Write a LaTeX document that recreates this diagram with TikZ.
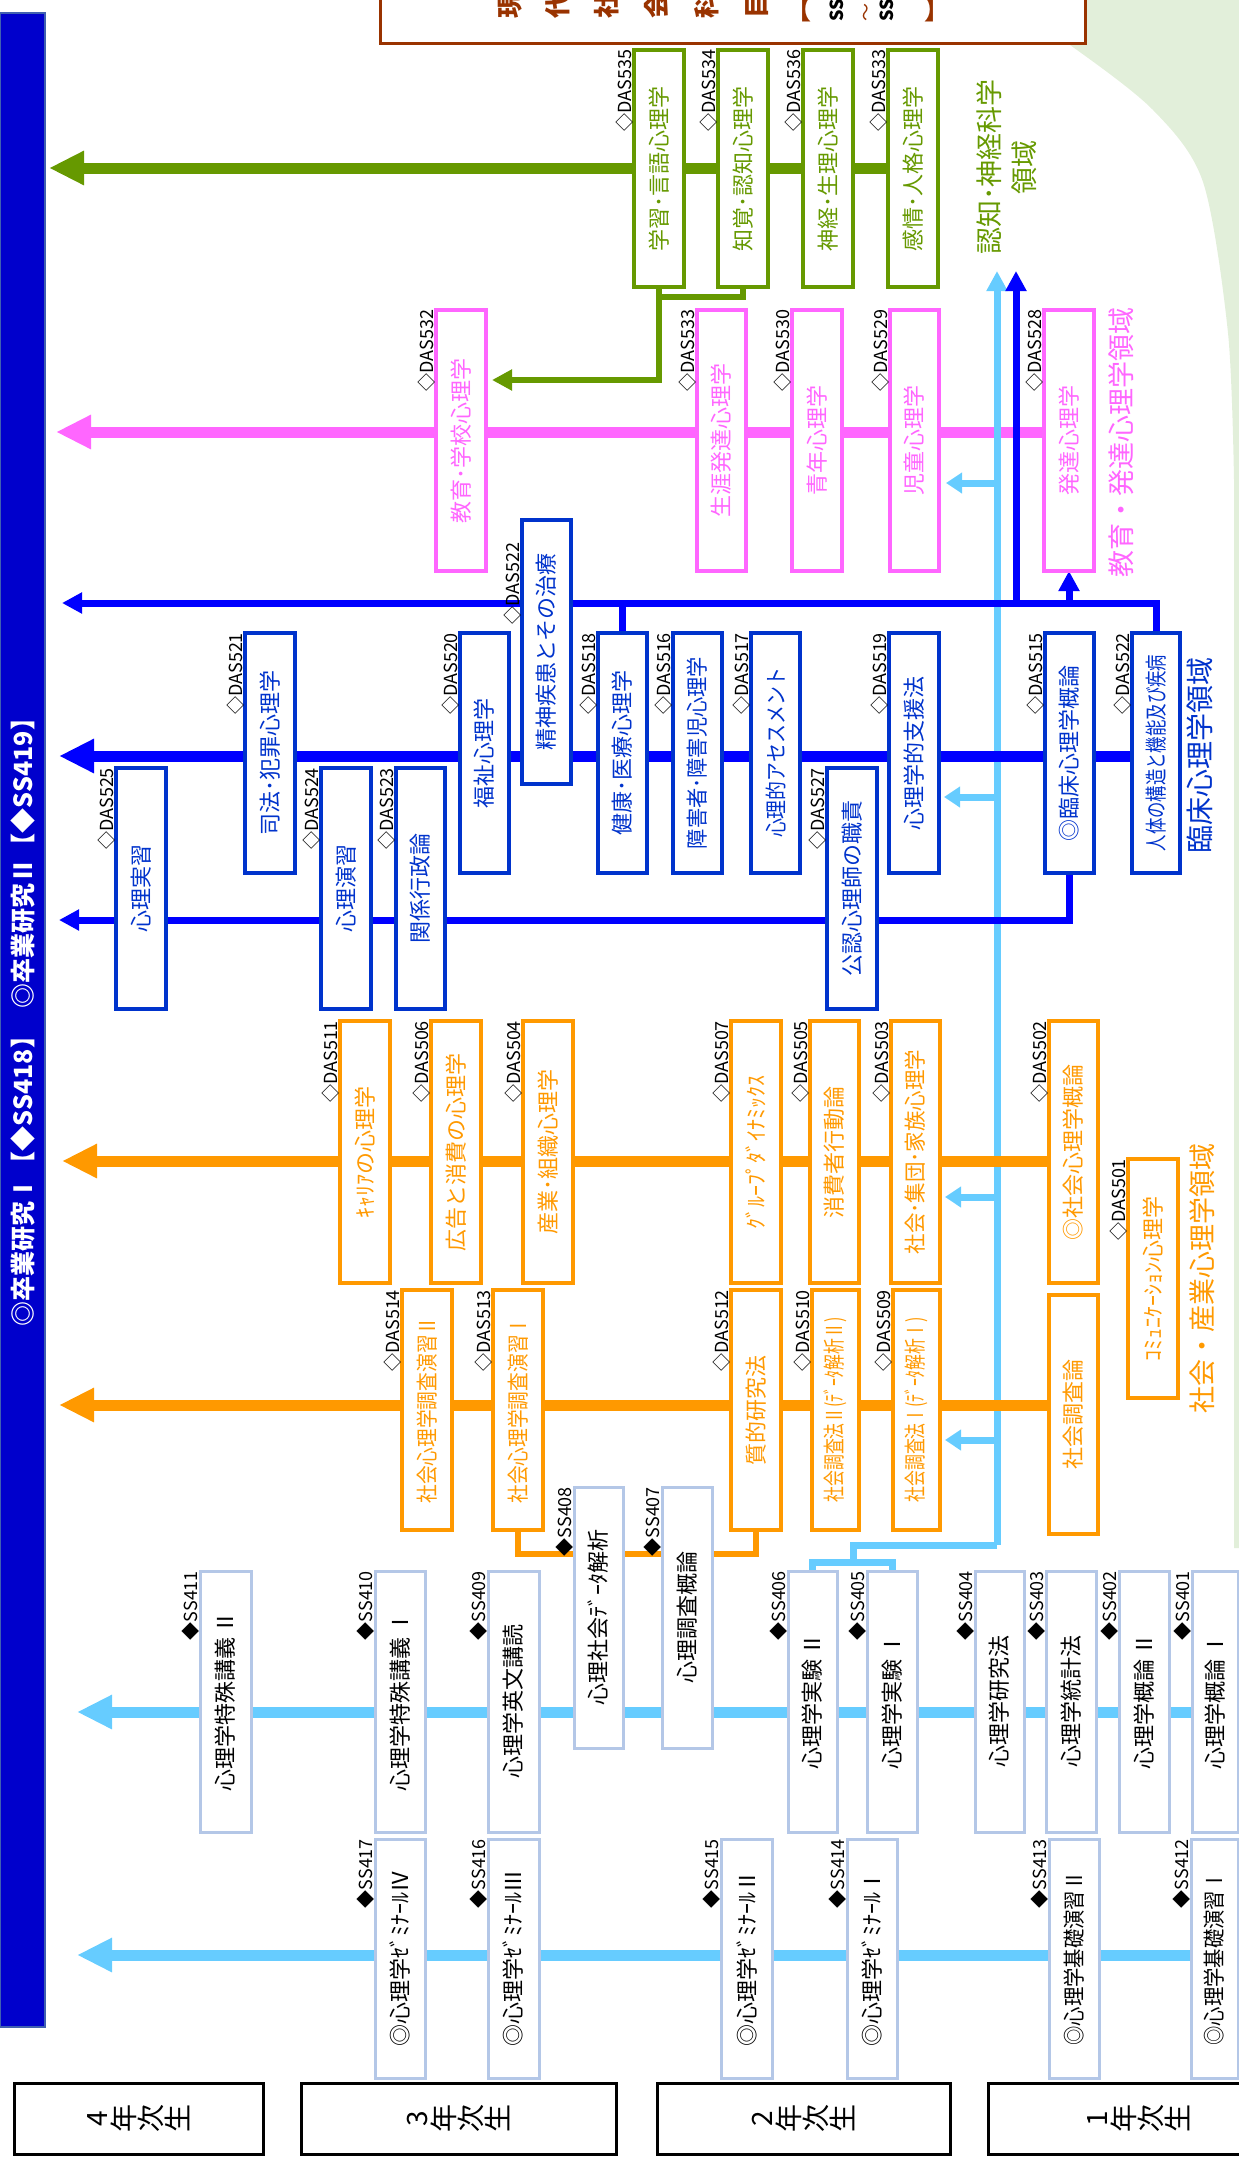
\documentclass[tikz,border=0pt]{standalone}
\usepackage{fontspec}
\setmainfont{Noto Sans CJK JP}
\usetikzlibrary{arrows.meta}
\pgfdeclarelayer{back}
\pgfdeclarelayer{lines}
\pgfsetlayers{back,lines,main}
\definecolor{cgreen}{HTML}{669900}
\definecolor{cpink}{HTML}{FF66FF}
\definecolor{cblue}{HTML}{0000FF}
\definecolor{cbluebox}{HTML}{0033CC}
\definecolor{corange}{HTML}{FF9900}
\definecolor{clight}{HTML}{66CCFF}
\definecolor{clightbox}{HTML}{B4C7E7}
\definecolor{cbar}{HTML}{0000CC}
\definecolor{cbarb}{HTML}{4060B0}
\definecolor{cbrown}{HTML}{993300}
\definecolor{cbg}{HTML}{E2EFDA}
\newcommand\fs[1]{\fontsize{#1}{#1}\selectfont}
\tikzset{
  box/.style={draw, fill=white, inner sep=0pt, outer sep=0pt, font=\fs{22}},
  gbox/.style={box, draw=cgreen, line width=4pt, text=cgreen},
  pbox/.style={box, draw=cpink, line width=4pt, text=cpink},
  bbox/.style={box, draw=cbluebox, line width=4pt, text=cbluebox},
  obox/.style={box, draw=corange, line width=4pt, text=corange},
  sbox/.style={box, draw=clightbox, line width=3pt, text=black},
  ybox/.style={draw=black, line width=3pt, fill=white, inner sep=0pt},
  ytext/.style={rotate=90, align=center, inner sep=0pt, font=\fontsize{28}{27}\selectfont},
  lbl/.style={inner sep=0pt, outer sep=0pt, font=\fs{18}, text=black, anchor=north east, xshift=-1pt},
  area/.style={rotate=90, align=center, inner sep=0pt},
  bigA/.style={-{Triangle[length=35pt,width=32pt]}},
  midA/.style={-{Triangle[length=20pt,width=20pt]}},
  smlA/.style={-{Triangle[length=16pt,width=20pt]}},
  gthick/.style={draw=cgreen, line width=11pt},
  gthin/.style={draw=cgreen, line width=6pt},
  pthick/.style={draw=cpink, line width=11pt},
  bthick/.style={draw=cblue, line width=11pt},
  bthin/.style={draw=cblue, line width=7pt},
  othick/.style={draw=corange, line width=11pt},
  othin/.style={draw=corange, line width=6.5pt},
  lthick/.style={draw=clight, line width=11pt},
  lthin/.style={draw=clight, line width=7pt},
  brch/.style={rotate=90, anchor=west, inner sep=0pt, text=cbrown, font=\fs{26}\bfseries},
}
% box: style, name, x1, y1, x2, y2, text
\newcommand\cbox[7]{\node[#1, minimum width={#5-#3}, minimum height={#6-#4}] (#2) at ({(#3+#5)/2},{(#4+#6)/2}) {\rotatebox{90}{#7}};}
\newcommand\clbl[2]{\node[lbl] (#1l) at (#1.north west) {\rotatebox{90}{#2}};}
\begin{document}
\begin{tikzpicture}[x=1pt,y=-1pt]
\useasboundingbox (0,0) rectangle (1239,2179);

% background green shape
\begin{pgfonlayer}{back}
\fill[cbg] plot[smooth] coordinates {(1000,0) (1070,45) (1153,110) (1203,182) (1228,333) (1234,480)} -- (1234,1548) -- (1239,1548) -- (1239,0) -- cycle;
\end{pgfonlayer}

% top brown box (cut off)
\node[draw=cbrown, line width=3pt, fill=white, minimum width=705, minimum height=60, inner sep=0pt] (top) at (732.5,13) {};
\node[brch] (c1) at (510,19) {現};
\node[brch] (c2) at (558,19) {代};
\node[brch] (c3) at (607,19) {社};
\node[brch] (c4) at (657,19) {会};
\node[brch] (c5) at (707,19) {科};
\node[brch] (c6) at (757,19) {目};
\node[anchor=south, inner sep=0pt, text=cbrown, font=\fs{26}\bfseries] (c7) at (798,22) {【};
\node[rotate=90, anchor=west, inner sep=0pt, font=\fs{18}\bfseries] (c8) at (837,22) {SS3};
\node[rotate=90, anchor=west, inner sep=0pt, text=cbrown, font=\fs{18}] (c9) at (868,22) {〜};
\node[rotate=90, anchor=west, inner sep=0pt, font=\fs{18}\bfseries] (c10) at (887,22) {SS3};
\node[anchor=south, inner sep=0pt, text=cbrown, font=\fs{26}\bfseries] (c11) at (937,22) {】};

% left bar
\node[fill=cbar, draw=cbarb, line width=1.5pt, minimum width=45, minimum height=2014, inner sep=0pt] (bar) at (22.5,1020) {};
\node[rotate=90, text=white, font=\fs{25}\bfseries, inner sep=0pt] (bar2) at (23,857) {◎卒業研究Ⅱ【◆SS419】};
\node[rotate=90, text=white, font=\fs{25}\bfseries, inner sep=0pt] (bar1) at (23,1175) {◎卒業研究Ⅰ【◆SS418】};

% area titles
\node[area, text=cgreen, font=\fontsize{27}{35}\selectfont] (tg) at (1007,167) {認知･神経科学\\領域};
\node[area, text=cpink, font=\fs{27}] (tp) at (1121,442) {教育・発達心理学領域};
\node[area, text=cbluebox, font=\fs{28}] (tb) at (1200,755) {臨床心理学領域};
\node[area, text=corange, font=\fs{27}] (to) at (1202,1278) {社会・産業心理学領域};

% green boxes
\cbox{gbox}{g1}{634}{50}{684}{287}{学習･言語心理学}
\cbox{gbox}{g2}{718}{50}{768}{287}{知覚･認知心理学}
\cbox{gbox}{g3}{803}{50}{853}{287}{神経･生理心理学}
\cbox{gbox}{g4}{888}{50}{938}{287}{感情･人格心理学}
\clbl{g1}{◇DAS535}
\clbl{g2}{◇DAS534}
\clbl{g3}{◇DAS536}
\clbl{g4}{◇DAS533}

% pink boxes
\cbox{pbox}{p1}{436}{310}{486}{571}{教育･学校心理学}
\cbox{pbox}{p2}{697}{310}{746}{571}{生涯発達心理学}
\cbox{pbox}{p3}{792}{310}{842}{571}{青年心理学}
\cbox{pbox}{p4}{890}{310}{939}{571}{児童心理学}
\cbox{pbox}{p5}{1044}{310}{1094}{571}{発達心理学}
\clbl{p1}{◇DAS532}
\clbl{p2}{◇DAS533}
\clbl{p3}{◇DAS530}
\clbl{p4}{◇DAS529}
\clbl{p5}{◇DAS528}

% blue boxes
\cbox{bbox}{b1}{245}{633}{295}{873}{司法･犯罪心理学}
\cbox{bbox}{b2}{116}{768}{166}{1009}{心理実習}
\cbox{bbox}{b3}{321}{768}{371}{1009}{心理演習}
\cbox{bbox}{b4}{396}{768}{445}{1009}{関係行政論}
\cbox{bbox}{b5}{460}{633}{509}{873}{福祉心理学}
\cbox{bbox}{b6}{522}{520}{571}{784}{精神疾患とその治療}
\cbox{bbox}{b7}{598}{633}{647}{873}{健康･医療心理学}
\cbox{bbox}{b8}{673}{633}{722}{873}{\scalebox{0.92}[1]{障害者･障害児心理学}}
\cbox{bbox}{b9}{751}{633}{800}{873}{\scalebox{0.86}[1]{心理的アセスメント}}
\cbox{bbox}{b10}{827}{768}{877}{1009}{公認心理師の職責}
\cbox{bbox}{b11}{889}{633}{939}{873}{心理学的支援法}
\cbox{bbox}{b12}{1045}{633}{1094}{873}{◎臨床心理学概論}
\cbox{bbox}{b13}{1132}{633}{1180}{873}{\scalebox{0.745}[1]{人体の構造と機能及び疾病}}
\clbl{b1}{◇DAS521}
\clbl{b2}{◇DAS525}
\clbl{b3}{◇DAS524}
\clbl{b4}{◇DAS523}
\clbl{b5}{◇DAS520}
\node[lbl] (b6l) at (b6.west |- 0,543) {\rotatebox{90}{◇DAS522}};
\clbl{b7}{◇DAS518}
\clbl{b8}{◇DAS516}
\clbl{b9}{◇DAS517}
\clbl{b10}{◇DAS527}
\clbl{b11}{◇DAS519}
\clbl{b12}{◇DAS515}
\clbl{b13}{◇DAS522}

% orange boxes
\cbox{obox}{o1}{340}{1021}{390}{1283}{ｷｬﾘｱの心理学}
\cbox{obox}{o2}{431}{1021}{481}{1283}{広告と消費の心理学}
\cbox{obox}{o3}{523}{1021}{573}{1283}{産業･組織心理学}
\cbox{obox}{o4}{731}{1021}{781}{1283}{ｸﾞﾙｰﾌﾟﾀﾞｲﾅﾐｯｸｽ}
\cbox{obox}{o5}{810}{1021}{859}{1283}{消費者行動論}
\cbox{obox}{o6}{891}{1021}{940}{1283}{\scalebox{0.93}[1]{社会･集団･家族心理学}}
\cbox{obox}{o7}{1049}{1021}{1098}{1283}{◎社会心理学概論}
\cbox{obox}{o8}{1128}{1159}{1178}{1398}{ｺﾐｭﾆｹｰｼｮﾝ心理学}
\cbox{obox}{o9}{402}{1290}{452}{1530}{\scalebox{0.85}[1]{社会心理学調査演習Ⅱ}}
\cbox{obox}{o10}{493}{1290}{543}{1530}{\scalebox{0.85}[1]{社会心理学調査演習Ⅰ}}
\cbox{obox}{o11}{731}{1290}{781}{1530}{質的研究法}
\cbox{obox}{o12}{812}{1290}{859}{1530}{\scalebox{0.72}[1]{社会調査法Ⅱ(ﾃﾞｰﾀ解析Ⅱ)}}
\cbox{obox}{o13}{893}{1290}{940}{1530}{\scalebox{0.72}[1]{社会調査法Ⅰ(ﾃﾞｰﾀ解析Ⅰ)}}
\cbox{obox}{o14}{1049}{1295}{1098}{1534}{社会調査論}
\clbl{o1}{◇DAS511}
\clbl{o2}{◇DAS506}
\clbl{o3}{◇DAS504}
\clbl{o4}{◇DAS507}
\clbl{o5}{◇DAS505}
\clbl{o6}{◇DAS503}
\clbl{o7}{◇DAS502}
\clbl{o8}{◇DAS501}
\clbl{o9}{◇DAS514}
\clbl{o10}{◇DAS513}
\clbl{o11}{◇DAS512}
\clbl{o12}{◇DAS510}
\clbl{o13}{◇DAS509}

% light boxes
\cbox{sbox}{s1}{200}{1571}{251}{1832}{心理学特殊講義 Ⅱ}
\cbox{sbox}{s2}{375}{1571}{425}{1832}{心理学特殊講義 Ⅰ}
\cbox{sbox}{s3}{488}{1571}{539}{1832}{心理学英文講読}
\cbox{sbox}{s4}{574}{1487}{623}{1748}{心理社会ﾃﾞｰﾀ解析}
\cbox{sbox}{s5}{662}{1487}{712}{1748}{心理調査概論}
\cbox{sbox}{s6}{788}{1571}{837}{1832}{心理学実験 Ⅱ}
\cbox{sbox}{s7}{867}{1571}{917}{1832}{心理学実験 Ⅰ}
\cbox{sbox}{s8}{975}{1571}{1024}{1832}{心理学研究法}
\cbox{sbox}{s9}{1046}{1571}{1096}{1832}{心理学統計法}
\cbox{sbox}{s10}{1119}{1571}{1169}{1832}{心理学概論 Ⅱ}
\cbox{sbox}{s11}{1192}{1571}{1238}{1832}{心理学概論 Ⅰ}
\cbox{sbox}{s12}{375}{1839}{425}{2078}{◎心理学ｾﾞﾐﾅｰﾙⅣ}
\cbox{sbox}{s13}{488}{1839}{539}{2078}{◎心理学ｾﾞﾐﾅｰﾙⅢ}
\cbox{sbox}{s14}{721}{1839}{772}{2078}{◎心理学ｾﾞﾐﾅｰﾙⅡ}
\cbox{sbox}{s15}{847}{1839}{897}{2078}{◎心理学ｾﾞﾐﾅｰﾙⅠ}
\cbox{sbox}{s16}{1049}{1839}{1099}{2078}{\scalebox{0.88}[1]{◎心理学基礎演習Ⅱ}}
\cbox{sbox}{s17}{1191}{1839}{1238}{2078}{\scalebox{0.88}[1]{◎心理学基礎演習Ⅰ}}
\clbl{s1}{◆SS411}
\clbl{s2}{◆SS410}
\clbl{s3}{◆SS409}
\clbl{s4}{◆SS408}
\clbl{s5}{◆SS407}
\clbl{s6}{◆SS406}
\clbl{s7}{◆SS405}
\clbl{s8}{◆SS404}
\clbl{s9}{◆SS403}
\clbl{s10}{◆SS402}
\clbl{s11}{◆SS401}
\clbl{s12}{◆SS417}
\clbl{s13}{◆SS416}
\clbl{s14}{◆SS415}
\clbl{s15}{◆SS414}
\clbl{s16}{◆SS413}
\clbl{s17}{◆SS412}

% year boxes
\node[ybox, minimum width=249, minimum height=71] (yr4) at (138.5,2118.5) {};
\node[ybox, minimum width=315, minimum height=71] (yr3) at (458.5,2118.5) {};
\node[ybox, minimum width=293, minimum height=71] (yr2) at (803.5,2118.5) {};
\node[ybox, minimum width=302, minimum height=71] (yr1) at (1139,2118.5) {};
\node[ytext] (yr4t) at (yr4.center) {4\\年\\次\\生};
\node[ytext] (yr3t) at (yr3.center) {3\\年\\次\\生};
\node[ytext] (yr2t) at (yr2.center) {2\\年\\次\\生};
\node[ytext] (yr1t) at (yr1.center) {1\\年\\次\\生};

% arrow tips and junctions
\coordinate (gA) at (49,168);
\coordinate (gT) at (492,380);
\coordinate (pA) at (56,432);
\coordinate (bA1) at (62,603);
\coordinate (bU1) at (1016,271);
\coordinate (bA2) at (59,756);
\coordinate (bA3) at (59,920);
\coordinate (lU) at (997,271);
\coordinate (lB) at (997,1545);
\coordinate (lM) at (853,1562);
\coordinate (lt1) at (946,483);
\coordinate (lt2) at (944,797);
\coordinate (lt3) at (945,1197);
\coordinate (lt4) at (945,1440);
\coordinate (lA1) at (77,1712);
\coordinate (lA2) at (77,1955);
\coordinate (oA1) at (62,1161);
\coordinate (oA2) at (59,1405);

\begin{pgfonlayer}{lines}
% green
\draw[gthick, bigA] (g4.west |- gA) -- (gA);
\draw[gthin] (g1.south) -- ++(0,10) -| (g2.south);
\draw[gthin, midA] (g1.south) |- (gT);
% pink
\draw[pthick, bigA] (p5.west |- pA) -- (pA);
% light blue vertical and branches
\draw[lthin, midA] (lB) -- (lU);
\draw[lthin, smlA] (lU |- lt1) -- (lt1);
\draw[lthin, smlA] (lU |- lt2) -- (lt2);
\draw[lthin, smlA] (lU |- lt3) -- (lt3);
\draw[lthin, smlA] (lU |- lt4) -- (lt4);
\draw[lthin] (lB) -| (lM);
\draw[lthin] (s6.north) |- (lM) -| (s7.north);
% blue
\draw[bthin, midA] (b13.north) |- (bA1);
\draw[bthin] (b7.north) -- (b7.north |- bA1);
\draw[bthin, midA] (bU1 |- bA1) -- (bU1);
\draw[bthin, midA] (p5.south |- bA1) -- (p5.south);
\draw[bthick, bigA] (b13.west |- bA2) -- (bA2);
\draw[bthin, midA] (b12.south) |- (bA3);
% orange
\draw[othick, bigA] (o7.west |- oA1) -- (oA1);
\draw[othick, bigA] (o14.west |- oA2) -- (oA2);
\draw[othin] (o10.south) -- ++(0,24) -| (o11.south);
% light blue horizontals
\draw[lthick, bigA] (s11.west |- lA1) -- (lA1);
\draw[lthick, bigA] (s17.west |- lA2) -- (lA2);
\end{pgfonlayer}
\end{tikzpicture}
\end{document}
